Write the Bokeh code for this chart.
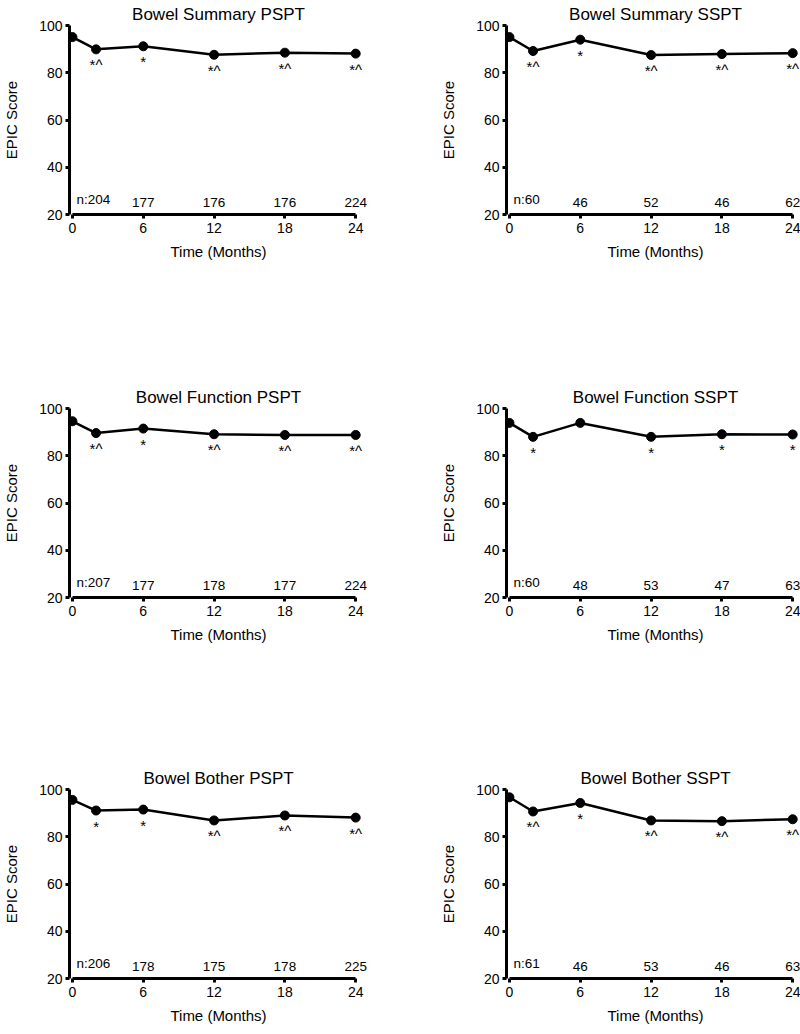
from bokeh.plotting import figure
from bokeh.layouts import column, row
from bokeh.models import ColumnDataSource, FixedTicker, Range1d, LabelSet
from bokeh.embed import file_html
from bokeh.resources import INLINE
from bokeh.core.properties import value

# ---- data ----
months = [0, 2, 6, 12, 18, 24]
n_months = [0, 6, 12, 18, 24]
sig_months = [2, 6, 12, 18, 24]

titles = ["Bowel Summary PSPT", "Bowel Summary SSPT",
          "Bowel Function PSPT", "Bowel Function SSPT",
          "Bowel Bother PSPT", "Bowel Bother SSPT"]

summary_pspt = [95.1, 89.9, 91.2, 87.6, 88.5, 88.1]
summary_sspt = [95.1, 89.2, 94.0, 87.5, 87.9, 88.3]
function_pspt = [94.6, 89.6, 91.5, 89.1, 88.8, 88.8]
function_sspt = [93.9, 88.0, 93.9, 88.0, 89.1, 89.0]
bother_pspt = [95.6, 91.1, 91.5, 86.9, 89.0, 88.1]
bother_sspt = [96.7, 90.7, 94.3, 86.9, 86.6, 87.4]

sig_summary_pspt = ["*^", "*", "*^", "*^", "*^"]
sig_summary_sspt = ["*^", "*", "*^", "*^", "*^"]
sig_function_pspt = ["*^", "*", "*^", "*^", "*^"]
sig_function_sspt = ["*", "", "*", "*", "*"]
sig_bother_pspt = ["*", "*", "*^", "*^", "*^"]
sig_bother_sspt = ["*^", "*", "*^", "*^", "*^"]

n_summary_pspt = ["n:204", "177", "176", "176", "224"]
n_summary_sspt = ["n:60", "46", "52", "46", "62"]
n_function_pspt = ["n:207", "177", "178", "177", "224"]
n_function_sspt = ["n:60", "48", "53", "47", "63"]
n_bother_pspt = ["n:206", "178", "175", "178", "225"]
n_bother_sspt = ["n:61", "46", "53", "46", "63"]

x_ticks = [0, 6, 12, 18, 24]
y_ticks = [20, 40, 60, 80, 100]

FONT = "Liberation Sans"


def make_panel(title, scores, sig, ns, left, bottom_border):
    p = figure(frame_width=298, frame_height=189,
               x_range=Range1d(-0.25, 25.0), y_range=Range1d(20, 100),
               output_backend="svg", toolbar_location=None,
               min_border_left=67, min_border_right=70 if left else 0,
               min_border_top=25, min_border_bottom=bottom_border,
               title=title)
    p.outline_line_color = None
    p.grid.visible = False
    p.background_fill_color = "white"
    p.border_fill_color = "white"
    p.title.text_font = FONT
    p.title.text_font_size = "17px"
    p.title.text_font_style = "normal"
    p.title.align = "center"
    p.title.standoff = 4
    p.title.text_color = "black"

    p.xaxis.ticker = FixedTicker(ticks=x_ticks)
    p.yaxis.ticker = FixedTicker(ticks=y_ticks)
    p.xaxis.bounds = (0, 24)
    p.yaxis.bounds = (20, 100)
    for ax in (p.xaxis, p.yaxis):
        ax.axis_line_width = 3
        ax.axis_line_color = "black"
        ax.major_tick_line_width = 3
        ax.major_tick_line_color = "black"
        ax.major_tick_out = 4
        ax.major_tick_in = 0
        ax.minor_tick_line_color = None
        ax.major_label_text_font = FONT
        ax.major_label_text_font_size = "14px"
        ax.major_label_text_color = "black"
        ax.axis_label_text_font = FONT
        ax.axis_label_text_font_size = "15px"
        ax.axis_label_text_font_style = "normal"
        ax.axis_label_text_color = "black"
    p.xaxis.major_label_standoff = 4
    p.yaxis.major_label_standoff = 3
    p.xaxis.axis_label = "Time (Months)"
    p.yaxis.axis_label = "EPIC Score"
    p.xaxis.axis_label_standoff = 7
    p.yaxis.axis_label_standoff = 16

    p.line(months, scores, line_width=2.5, line_color="black")
    p.scatter(months, scores, size=9, fill_color="black", line_color="black")

    sig_y = [scores[months.index(m)] for m in sig_months]
    src_sig = ColumnDataSource(dict(x=sig_months, y=sig_y, t=sig))
    p.add_layout(LabelSet(x="x", y="y", text="t", source=src_sig,
                          text_align="center", text_baseline="top",
                          y_offset=-7, text_font=value(FONT),
                          text_font_size="15px", text_color="black"))

    src_n0 = ColumnDataSource(dict(x=n_months[:1], y=[20], t=ns[:1]))
    src_n = ColumnDataSource(dict(x=n_months[1:], y=[20] * 4, t=ns[1:]))
    p.add_layout(LabelSet(x="x", y="y", text="t", source=src_n0,
                          text_align="left", text_baseline="bottom",
                          x_offset=4, y_offset=8, text_font=value(FONT),
                          text_font_size="13.5px", text_color="black"))
    p.add_layout(LabelSet(x="x", y="y", text="t", source=src_n,
                          text_align="center", text_baseline="bottom",
                          y_offset=8, text_font=value(FONT),
                          text_font_size="13.5px", text_color="black"))
    return p


p1 = make_panel(titles[0], summary_pspt, sig_summary_pspt, n_summary_pspt, True, 169)
p2 = make_panel(titles[1], summary_sspt, sig_summary_sspt, n_summary_sspt, False, 169)
p3 = make_panel(titles[2], function_pspt, sig_function_pspt, n_function_pspt, True, 167)
p4 = make_panel(titles[3], function_sspt, sig_function_sspt, n_function_sspt, False, 167)
p5 = make_panel(titles[4], bother_pspt, sig_bother_pspt, n_bother_pspt, True, 0)
p6 = make_panel(titles[5], bother_sspt, sig_bother_sspt, n_bother_sspt, False, 0)

layout = column(row(p1, p2, spacing=0), row(p3, p4, spacing=0),
                row(p5, p6, spacing=0), spacing=0)

open("out.html", "w").write(file_html(layout, INLINE))
